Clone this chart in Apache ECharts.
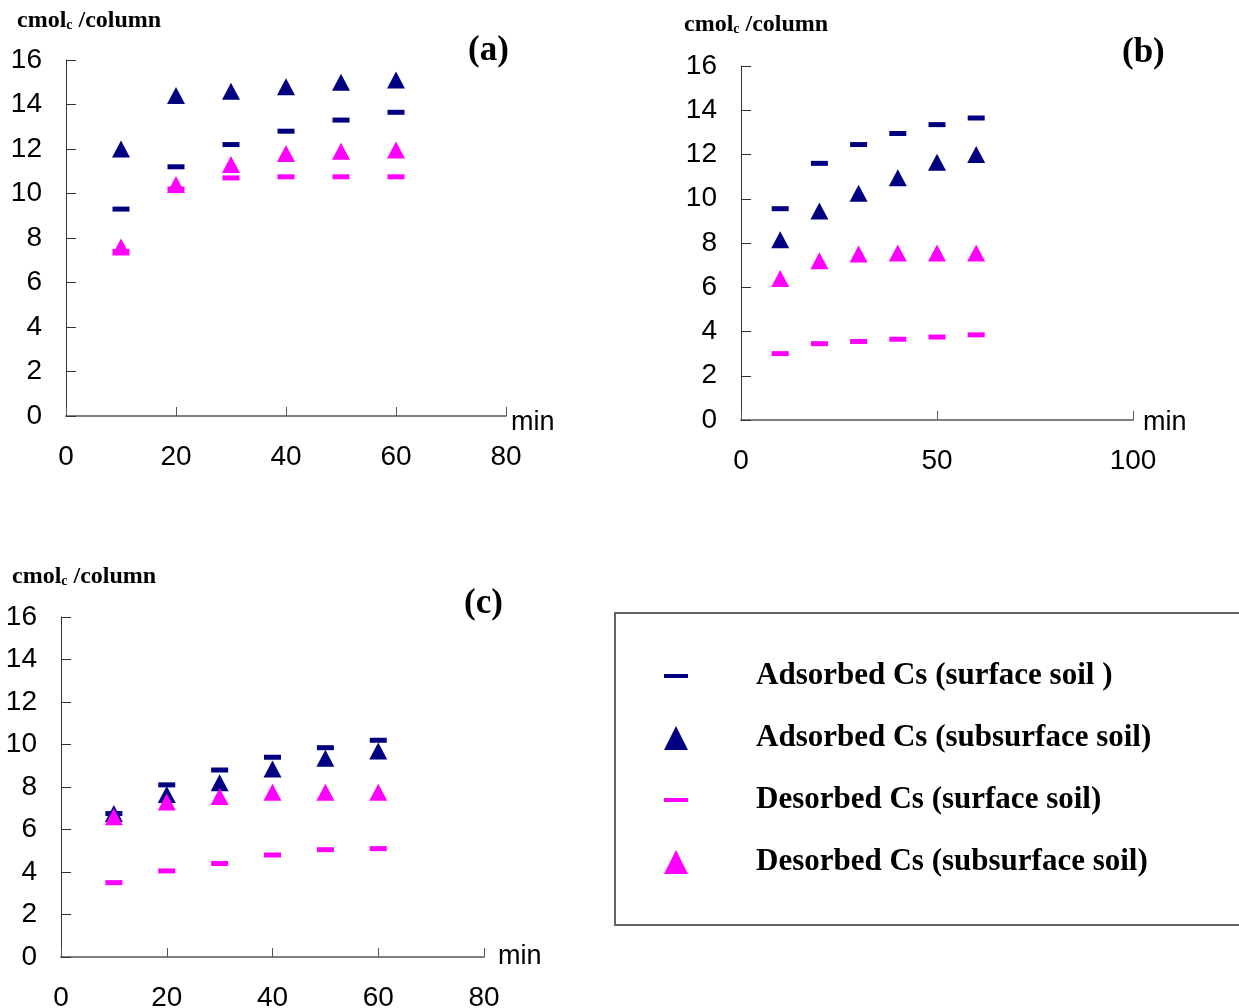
<!DOCTYPE html>
<html>
<head>
<meta charset="utf-8">
<script src="https://cdn.jsdelivr.net/npm/echarts@6.0.0/dist/echarts.min.js"></script>
<style>
  html, body { margin: 0; padding: 0; background: #fff; }
  #chart { width: 1239px; height: 1008px; }
</style>
</head>
<body>
<div id="chart"></div>
<script>
// sampling times (min)
var times = [10, 20, 30, 40, 50, 60];

var seriesNames = [
  'Adsorbed Cs (surface soil )',
  'Adsorbed Cs (subsurface soil)',
  'Desorbed Cs (surface soil)',
  'Desorbed Cs (subsurface soil)'
];

// panel (a)
var adsSurfA = [9.3, 11.2, 12.2, 12.8, 13.3, 13.65];
var adsSubA  = [12.0, 14.4, 14.6, 14.8, 15.0, 15.1];
var desSurfA = [7.4, 10.2, 10.7, 10.75, 10.75, 10.75];
var desSubA  = [7.6, 10.4, 11.3, 11.8, 11.9, 11.95];

// panel (b)
var adsSurfB = [9.55, 11.6, 12.45, 12.95, 13.35, 13.65];
var adsSubB  = [8.15, 9.45, 10.25, 10.95, 11.65, 12.0];
var desSurfB = [3.0, 3.45, 3.55, 3.65, 3.75, 3.85];
var desSubB  = [6.4, 7.2, 7.5, 7.55, 7.55, 7.55];

// panel (c)
var adsSurfC = [6.75, 8.1, 8.8, 9.4, 9.85, 10.2];
var adsSubC  = [6.75, 7.65, 8.2, 8.85, 9.35, 9.7];
var desSurfC = [3.5, 4.05, 4.4, 4.8, 5.05, 5.1];
var desSubC  = [6.6, 7.3, 7.55, 7.75, 7.75, 7.75];

// axis ranges
var yMax = 16, yStep = 2;
var xMaxes = [80, 100, 80];
var xSteps = [20, 50, 20];
var panelLabels = ['(a)', '(b)', '(c)'];

var NAVY = '#000080';
var PINK = '#ff00ff';
var DASH = [17, 5];
var TRI = [18, 17];

function pairs(ys) {
  return times.map(function (t, i) { return [t, ys[i]]; });
}

var chart = echarts.init(document.getElementById('chart'));

var grids = [
  { left: 66, top: 60, width: 440, height: 356 },
  { left: 741, top: 66, width: 392, height: 354 },
  { left: 61, top: 617, width: 423, height: 340 }
];
var nameGaps = [5, 10, 14];
// "min" sits a little lower than the axis line in (a) and (b)
var nameAligns = [['top', 14], ['top', 6], ['middle', 27]];

var xAxes = [], yAxes = [], series = [];
var panelData = [
  [adsSurfA, adsSubA, desSurfA, desSubA],
  [adsSurfB, adsSubB, desSurfB, desSubB],
  [adsSurfC, adsSubC, desSurfC, desSubC]
];

grids.forEach(function (g, i) {
  g.outerBoundsMode = 'none';
  xAxes.push({
    gridIndex: i,
    type: 'value',
    min: 0,
    max: xMaxes[i],
    interval: xSteps[i],
    name: 'min',
    nameLocation: 'end',
    nameGap: nameGaps[i],
    nameTextStyle: {
      fontFamily: 'Liberation Sans', fontSize: 27, color: '#000',
      verticalAlign: nameAligns[i][0], lineHeight: nameAligns[i][1]
    },
    splitLine: { show: false },
    axisLine: { lineStyle: { color: '#808080', width: 2 } },
    axisTick: { inside: true, length: 9, lineStyle: { color: '#555', width: 1 } },
    axisLabel: { fontFamily: 'Liberation Sans', fontSize: 28, color: '#000', margin: 27 }
  });
  yAxes.push({
    gridIndex: i,
    type: 'value',
    min: 0,
    max: yMax,
    interval: yStep,
    splitLine: { show: false },
    axisLine: { show: true, lineStyle: { color: '#333', width: 1 } },
    axisTick: { show: true, inside: true, length: 10, lineStyle: { color: '#333', width: 1 } },
    axisLabel: { fontFamily: 'Liberation Sans', fontSize: 28, color: '#000', margin: 24 }
  });
  panelData[i].forEach(function (ys, k) {
    series.push({
      name: seriesNames[k],
      type: 'scatter',
      xAxisIndex: i,
      yAxisIndex: i,
      symbol: k % 2 === 0 ? 'rect' : 'triangle',
      symbolSize: k % 2 === 0 ? DASH : TRI,
      itemStyle: { color: k < 2 ? NAVY : PINK, opacity: 1 },
      emphasis: { disabled: true },
      z: 2 + k,
      data: pairs(ys)
    });
  });
});

var unitPos = [[17, 9], [684, 13], [12, 565]];
var labelPos = [[468, 33], [1122, 35], [464, 586]];
var titles = [];
unitPos.forEach(function (p) {
  titles.push({
    text: '{m|cmol}{s|c}{m| /column}',
    left: p[0],
    top: p[1],
    padding: 0,
    textStyle: {
      rich: {
        m: { fontFamily: 'Liberation Serif', fontWeight: 'bold', fontSize: 24, color: '#000' },
        s: { fontFamily: 'Liberation Serif', fontWeight: 'bold', fontSize: 14, color: '#000', padding: [8, 0, 0, 0] }
      }
    }
  });
});
labelPos.forEach(function (p, i) {
  titles.push({
    text: panelLabels[i],
    left: p[0],
    top: p[1],
    padding: 0,
    textStyle: { fontFamily: 'Liberation Serif', fontWeight: 'bold', fontSize: 35, color: '#000' }
  });
});

var option = {
  backgroundColor: '#fff',
  animation: false,
  title: titles,
  grid: grids,
  xAxis: xAxes,
  yAxis: yAxes,
  legend: {
    left: 615,
    top: 613,
    orient: 'vertical',
    selectedMode: false,
    itemWidth: 24,
    itemHeight: 24,
    itemGap: 30,
    padding: [47, 200, 47, 49],
    borderColor: '#666',
    borderWidth: 2,
    data: [
      { name: seriesNames[0], icon: 'path://M0,0H24V4H0Z' },
      { name: seriesNames[1], icon: 'triangle' },
      { name: seriesNames[2], icon: 'path://M0,0H24V4H0Z' },
      { name: seriesNames[3], icon: 'triangle' }
    ],
    textStyle: {
      fontFamily: 'Liberation Serif',
      fontWeight: 'bold',
      fontSize: 31,
      lineHeight: 32,
      color: '#000',
      padding: [0, 0, 0, 63]
    }
  },
  series: series
};

chart.setOption(option);
</script>
</body>
</html>
